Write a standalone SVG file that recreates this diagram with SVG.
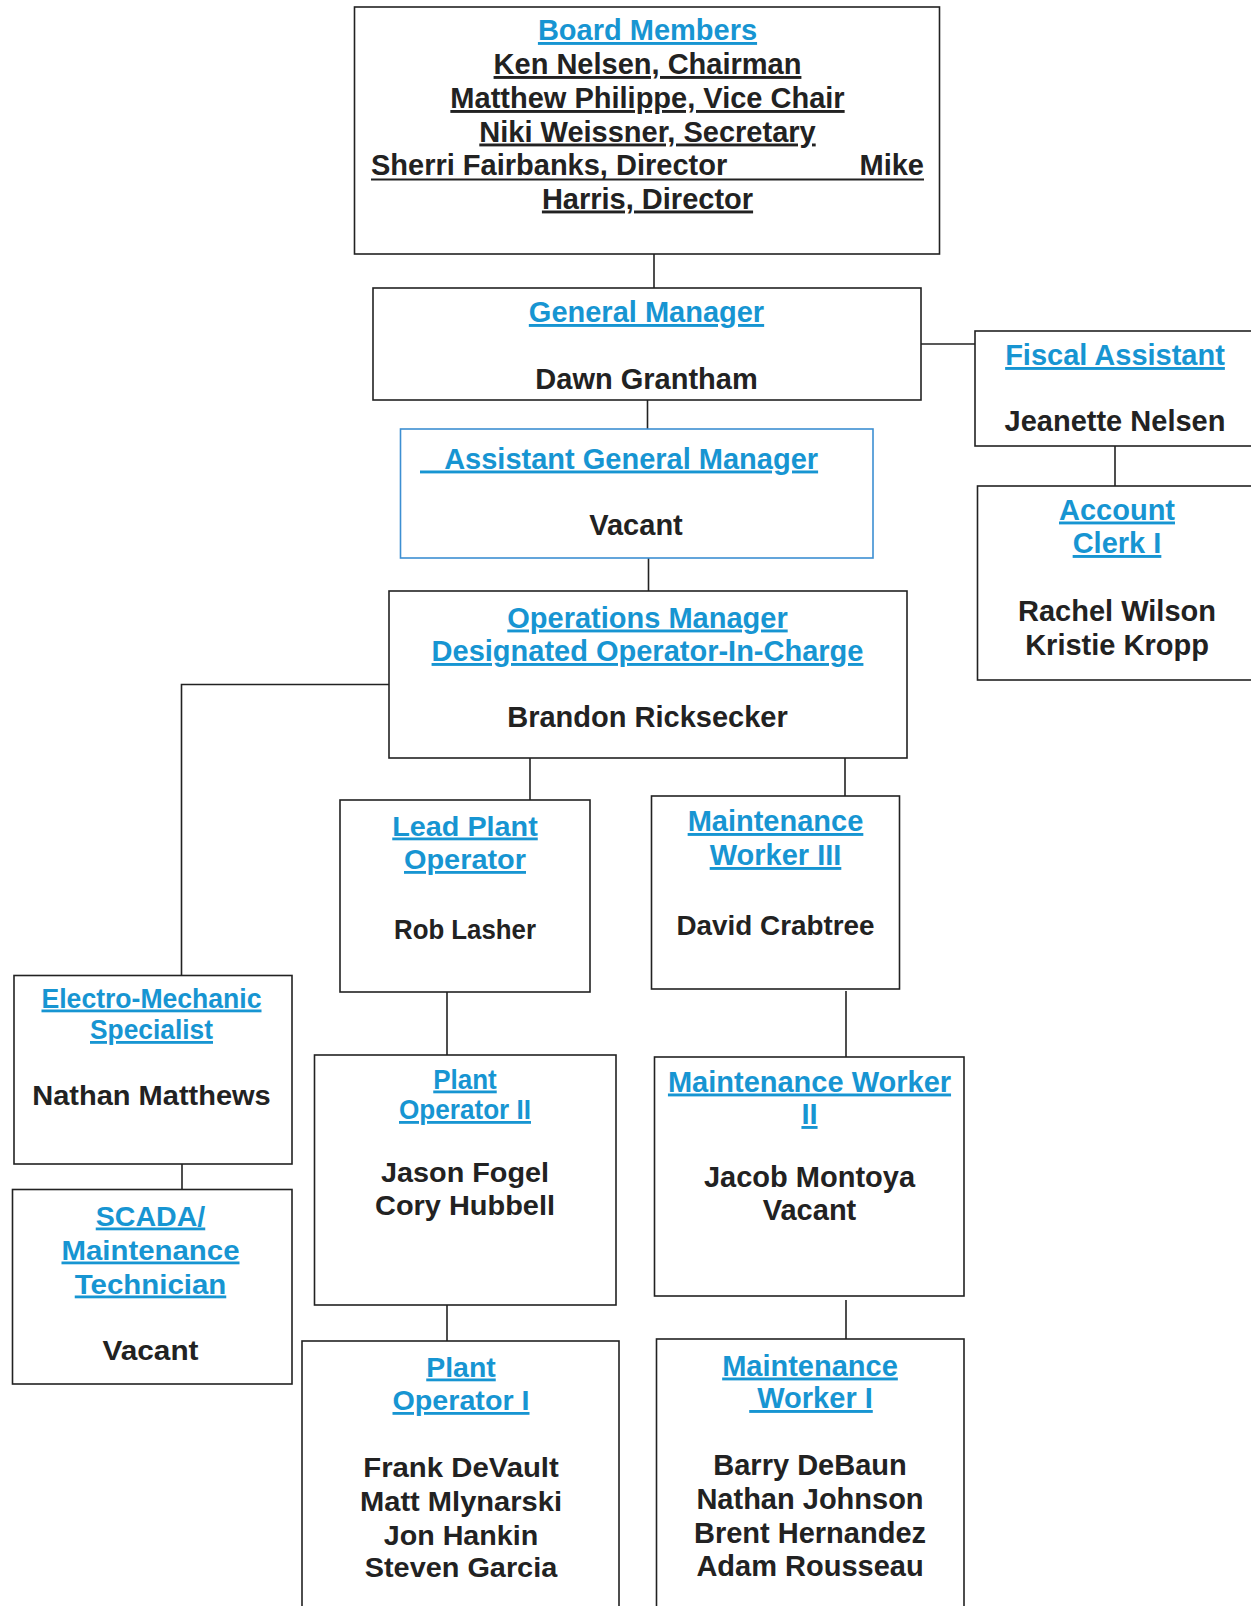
<svg xmlns="http://www.w3.org/2000/svg" width="1251" height="1606" viewBox="0 0 1251 1606">
<style>
.bg{fill:#fff}
.box{fill:#fff;stroke:#222;stroke-width:1.6}
.agm{stroke:#3d8fd2}
.con{fill:none;stroke:#222;stroke-width:1.6}
text{font-family:"Liberation Sans",Arial,sans-serif;font-weight:bold;font-size:29px;text-anchor:middle}
.ti{fill:#1795d2;text-decoration:underline}
.nm{fill:#222}
.ul{text-decoration:underline}
.nr{font-family:"Liberation Sans Narrow","Liberation Sans",Arial,sans-serif;font-size:28px}
.st{text-anchor:start}
.en{text-anchor:end}
</style>
<rect class="bg" x="0" y="0" width="1251" height="1606"/>
<g id="connectors">
<line class="con" x1="654" y1="254" x2="654" y2="288"/>
<line class="con" x1="921" y1="344" x2="975" y2="344"/>
<line class="con" x1="1115" y1="446" x2="1115" y2="486"/>
<line class="con" x1="647.5" y1="400" x2="647.5" y2="429"/>
<line class="con" x1="648.5" y1="558" x2="648.5" y2="591"/>
<line class="con" x1="530" y1="758" x2="530" y2="800"/>
<line class="con" x1="845" y1="758" x2="845" y2="796"/>
<path class="con" d="M389,684.5 H181.5 V975.5"/>
<line class="con" x1="182" y1="1164" x2="182" y2="1189.5"/>
<line class="con" x1="447" y1="992" x2="447" y2="1055"/>
<line class="con" x1="846" y1="991" x2="846" y2="1057"/>
<line class="con" x1="447" y1="1305" x2="447" y2="1341"/>
<line class="con" x1="846" y1="1300" x2="846" y2="1339"/>
</g>
<g id="board">
<rect class="box" x="354.5" y="7" width="585" height="247"/>
<text class="ti" x="647.5" y="40">Board Members</text>
<text class="nm ul" x="647.5" y="74">Ken Nelsen, Chairman</text>
<text class="nm ul" x="647.5" y="108">Matthew Philippe, Vice Chair</text>
<text class="nm ul" x="647.5" y="141.5">Niki Weissner, Secretary</text>
<text class="nm st" x="371" y="175">Sherri Fairbanks, Director</text>
<text class="nm en" x="924" y="175">Mike</text>
<line x1="371" y1="179.5" x2="924" y2="179.5" stroke="#222" stroke-width="2.2"/>
<text class="nm ul" x="647.5" y="208.5">Harris, Director</text>
</g>
<g id="general-manager">
<rect class="box" x="373" y="288" width="548" height="112"/>
<text class="ti" x="646.5" y="322">General Manager</text>
<text class="nm" x="646.5" y="389">Dawn Grantham</text>
</g>
<g id="fiscal-assistant">
<rect class="box" x="975" y="331" width="290" height="115"/>
<text class="ti" x="1115" y="365">Fiscal Assistant</text>
<text class="nm" x="1115" y="431">Jeanette Nelsen</text>
</g>
<g id="account-clerk">
<rect class="box" x="977.5" y="486" width="290" height="194"/>
<text class="ti" x="1117" y="519.5">Account</text>
<text class="ti" x="1117" y="553">Clerk I</text>
<text class="nm" x="1117" y="621">Rachel Wilson</text>
<text class="nm" x="1117" y="655">Kristie Kropp</text>
</g>
<g id="assistant-gm">
<rect class="box agm" x="400.5" y="429" width="472.5" height="129"/>
<text class="ti st" x="420" y="468.5">&#160;&#160;&#160;Assistant General Manager</text>
<text class="nm" x="636" y="535">Vacant</text>
</g>
<g id="operations-manager">
<rect class="box" x="389" y="591" width="518" height="167"/>
<text class="ti" x="647.5" y="627.5">Operations Manager</text>
<text class="ti" x="647.5" y="661">Designated Operator-In-Charge</text>
<text class="nm" x="647.5" y="726.5">Brandon Ricksecker</text>
</g>
<g id="lead-plant-operator">
<rect class="box" x="340" y="800" width="250" height="192"/>
<text class="ti nr" x="465" y="835.5" textLength="145.5" lengthAdjust="spacingAndGlyphs">Lead Plant</text>
<text class="ti nr" x="465" y="869" textLength="122" lengthAdjust="spacingAndGlyphs">Operator</text>
<text class="nm nr" x="465" y="938.5" textLength="142" lengthAdjust="spacingAndGlyphs">Rob Lasher</text>
</g>
<g id="maintenance-worker-3">
<rect class="box" x="651.5" y="796" width="248" height="193"/>
<text class="ti" x="775.5" y="831">Maintenance</text>
<text class="ti" x="775.5" y="865">Worker III</text>
<text class="nm nr" x="775.5" y="934.5" textLength="198" lengthAdjust="spacingAndGlyphs">David Crabtree</text>
</g>
<g id="electro-mechanic">
<rect class="box" x="14" y="975.5" width="278" height="188.5"/>
<text class="ti nr" x="151.5" y="1007.5" textLength="220" lengthAdjust="spacingAndGlyphs">Electro-Mechanic</text>
<text class="ti nr" x="151.5" y="1039" textLength="123" lengthAdjust="spacingAndGlyphs">Specialist</text>
<text class="nm nr" x="151.5" y="1104.5" textLength="238.5" lengthAdjust="spacingAndGlyphs">Nathan Matthews</text>
</g>
<g id="scada-technician">
<rect class="box" x="12.5" y="1189.5" width="279.5" height="194.5"/>
<text class="ti nr" x="150.5" y="1225.5" textLength="109.5" lengthAdjust="spacingAndGlyphs">SCADA/</text>
<text class="ti nr" x="150.5" y="1259.5" textLength="178" lengthAdjust="spacingAndGlyphs">Maintenance</text>
<text class="ti nr" x="150.5" y="1293.5" textLength="151.5" lengthAdjust="spacingAndGlyphs">Technician</text>
<text class="nm nr" x="150.5" y="1360" textLength="96" lengthAdjust="spacingAndGlyphs">Vacant</text>
</g>
<g id="plant-operator-2">
<rect class="box" x="314.5" y="1055" width="301.5" height="250"/>
<text class="ti nr" x="465" y="1088.5" textLength="63.5" lengthAdjust="spacingAndGlyphs">Plant</text>
<text class="ti nr" x="465" y="1119" textLength="132" lengthAdjust="spacingAndGlyphs">Operator II</text>
<text class="nm nr" x="465" y="1181.5" textLength="168" lengthAdjust="spacingAndGlyphs">Jason Fogel</text>
<text class="nm nr" x="465" y="1214.5" textLength="180" lengthAdjust="spacingAndGlyphs">Cory Hubbell</text>
</g>
<g id="maintenance-worker-2">
<rect class="box" x="654.5" y="1057" width="309.5" height="239"/>
<text class="ti" x="809.5" y="1091.5">Maintenance Worker</text>
<text class="ti" x="809.5" y="1124">II</text>
<text class="nm" x="809.5" y="1186.5">Jacob Montoya</text>
<text class="nm" x="809.5" y="1219.5">Vacant</text>
</g>
<g id="plant-operator-1">
<rect class="box" x="302" y="1341" width="317" height="280"/>
<text class="ti nr" x="461" y="1376.5" textLength="69.5" lengthAdjust="spacingAndGlyphs">Plant</text>
<text class="ti nr" x="461" y="1410" textLength="137" lengthAdjust="spacingAndGlyphs">Operator I</text>
<text class="nm nr" x="461" y="1476.5" textLength="195.5" lengthAdjust="spacingAndGlyphs">Frank DeVault</text>
<text class="nm nr" x="461" y="1510.5" textLength="202" lengthAdjust="spacingAndGlyphs">Matt Mlynarski</text>
<text class="nm nr" x="461" y="1544.5" textLength="154.5" lengthAdjust="spacingAndGlyphs">Jon Hankin</text>
<text class="nm nr" x="461" y="1577" textLength="192.5" lengthAdjust="spacingAndGlyphs">Steven Garcia</text>
</g>
<g id="maintenance-worker-1">
<rect class="box" x="656.5" y="1339" width="307.5" height="280"/>
<text class="ti" x="810" y="1375.5">Maintenance</text>
<text class="ti" x="811" y="1408">&#160;Worker I</text>
<text class="nm" x="810" y="1474.5">Barry DeBaun</text>
<text class="nm" x="810" y="1508.5">Nathan Johnson</text>
<text class="nm" x="810" y="1542.5">Brent Hernandez</text>
<text class="nm" x="810" y="1576">Adam Rousseau</text>
</g>
</svg>
